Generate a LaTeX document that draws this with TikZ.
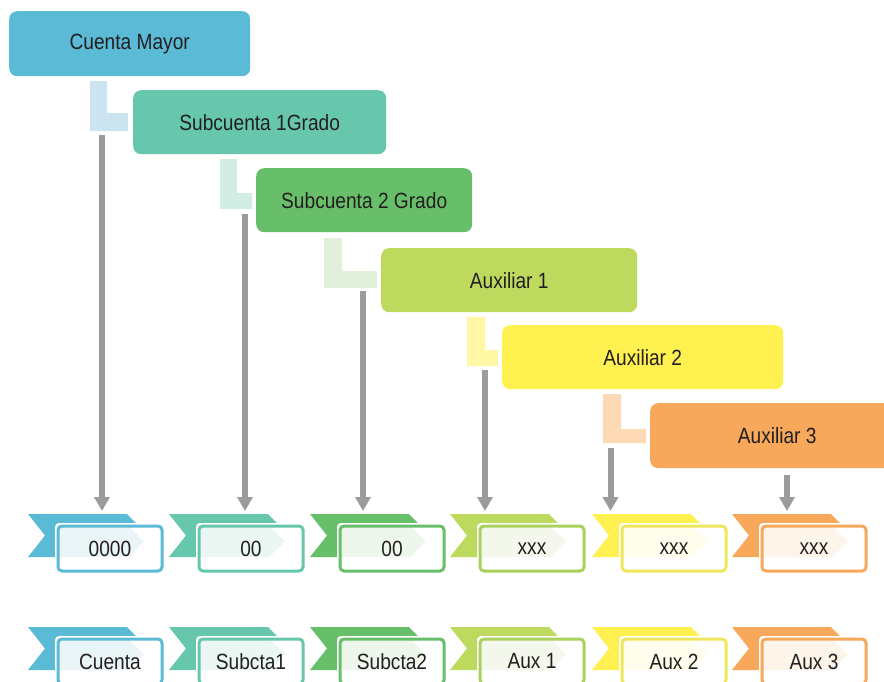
\documentclass[tikz,border=0pt]{standalone}
\usepackage{fontspec}
\setmainfont{Liberation Sans}[FakeStretch=0.87]
\usetikzlibrary{arrows.meta}
\definecolor{cA}{HTML}{5BBAD5}
\definecolor{cB}{HTML}{67C7AC}
\definecolor{cC}{HTML}{68BF6A}
\definecolor{cD}{HTML}{BDD95E}
\definecolor{cE}{HTML}{FFF150}
\definecolor{cF}{HTML}{F8A85A}
\definecolor{oD}{HTML}{A9D15C}
\definecolor{oE}{HTML}{EFE65C}
\definecolor{tA}{HTML}{EAF5F8}
\definecolor{tB}{HTML}{EBF7F3}
\definecolor{tC}{HTML}{EEF7EC}
\definecolor{tD}{HTML}{F4F8EC}
\definecolor{tE}{HTML}{FFFDEC}
\definecolor{tF}{HTML}{FEF5EA}
\definecolor{lA}{HTML}{CCE4EF}
\definecolor{lB}{HTML}{D2EDE4}
\definecolor{lC}{HTML}{E0F0DA}
\definecolor{lD}{HTML}{FFF7A4}
\definecolor{lE}{HTML}{FDD9B5}
\definecolor{txt}{HTML}{231F20}
\definecolor{arr}{HTML}{9B9B9B}
\newcommand\labfont{\fontsize{22}{26}\selectfont}
\newcommand\ribbon[7]{%
  % #1 X, #2 Y, #3 flag colour, #4 outline colour, #5 tint, #6 text, #7 name
  \fill[#3] (#1,#2) -- ++(99,0) -- ++(21,21.5) -- ++(-21,21.5) -- ++(-99,0) -- ++(17,-21.5) -- cycle;
  \fill[white, rounded corners=4pt] (#1+27,#2+9) rectangle (#1+134,#2+57);
  \fill[#5] (#1+30,#2+12) -- (#1+100,#2+12) -- (#1+116,#2+27.5) -- (#1+100,#2+43) -- (#1+30,#2+43) -- cycle;
  \node[botbox, draw=#4, anchor=north west] (#7) at (#1+28.5,#2+10.5) {#6};
}
\begin{document}
\begin{tikzpicture}[x=1pt,y=-1pt,
  topbox/.style={rounded corners=8pt, inner sep=0pt, text=txt, font=\labfont, anchor=north west},
  botbox/.style={line width=3pt, rounded corners=4pt, inner sep=0pt, minimum width=104pt, minimum height=45pt, text=txt, font=\labfont},
  link/.style={draw=arr, line width=6pt, -{Triangle[width=15pt,length=14pt]}}]
\clip (0,0) rectangle (884,681);
\fill[white] (0,0) rectangle (884,681);

% top boxes
\node[topbox, fill=cA, minimum width=241pt, minimum height=65pt] (cm) at (9,11) {Cuenta Mayor};
\node[topbox, fill=cB, minimum width=253pt, minimum height=64pt] (s1) at (133,90) {Subcuenta 1Grado};
\node[topbox, fill=cC, minimum width=216pt, minimum height=64pt] (s2) at (256,168) {Subcuenta 2 Grado};
\node[topbox, fill=cD, minimum width=256pt, minimum height=64pt] (a1) at (381,248) {Auxiliar 1};
\node[topbox, fill=cE, minimum width=281pt, minimum height=64pt] (a2) at (502,325) {Auxiliar 2};
\node[topbox, fill=cF, minimum width=254pt, minimum height=65pt] (a3) at (650,403) {Auxiliar 3};

% L-shaped brackets
\fill[lA] (90,81) -- (107,81) -- (107,113) -- (128,113) -- (128,131) -- (90,131) -- cycle;
\fill[lB] (220,159) -- (237,159) -- (237,193) -- (252,193) -- (252,209) -- (220,209) -- cycle;
\fill[lC] (324,238) -- (342,238) -- (342,271) -- (377,271) -- (377,288) -- (324,288) -- cycle;
\fill[lD] (467,317) -- (485,317) -- (485,350) -- (498,350) -- (498,366) -- (467,366) -- cycle;
\fill[lE] (603,394) -- (621,394) -- (621,429) -- (646,429) -- (646,443) -- (603,443) -- cycle;

% ribbons, row 1
\ribbon{28}{514}{cA}{cA}{tA}{0000}{r1}
\ribbon{169}{514}{cB}{cB}{tB}{00}{r2}
\ribbon{310}{514}{cC}{cC}{tC}{00}{r3}
\ribbon{450}{514}{cD}{oD}{tD}{xxx}{r4}
\ribbon{592}{514}{cE}{oE}{tE}{xxx}{r5}
\ribbon{732}{514}{cF}{cF}{tF}{xxx}{r6}
% ribbons, row 2
\ribbon{28}{627}{cA}{cA}{tA}{Cuenta}{q1}
\ribbon{169}{627}{cB}{cB}{tB}{Subcta1}{q2}
\ribbon{310}{627}{cC}{cC}{tC}{Subcta2}{q3}
\ribbon{450}{627}{cD}{oD}{tD}{Aux 1}{q4}
\ribbon{592}{627}{cE}{oE}{tE}{Aux 2}{q5}
\ribbon{732}{627}{cF}{cF}{tF}{Aux 3}{q6}

% arrows
\coordinate (b1) at (102,135);   \coordinate (e1) at (102,511);
\coordinate (b2) at (245,214);   \coordinate (e2) at (245,511);
\coordinate (b3) at (363,291);   \coordinate (e3) at (363,511);
\coordinate (b4) at (485,370);   \coordinate (e4) at (485,511);
\coordinate (b5) at (610.5,448); \coordinate (e5) at (610.5,511);
\coordinate (b6) at (787,475);   \coordinate (e6) at (787,511);
\foreach \i in {1,...,6} { \draw[link] (b\i) -- (e\i); }
\end{tikzpicture}
\end{document}
